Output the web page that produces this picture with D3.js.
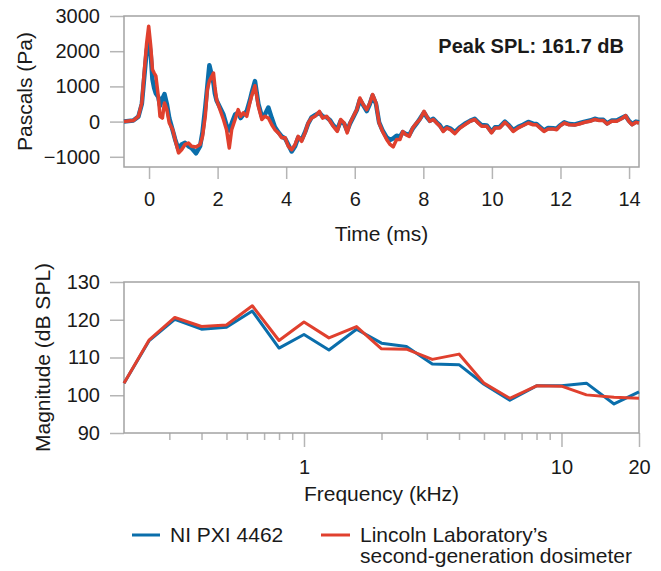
<!DOCTYPE html>
<html>
<head>
<meta charset="utf-8">
<script src="https://cdn.jsdelivr.net/npm/d3@7"></script>
<style>
  body { margin: 0; background: #fff; }
  svg text { font-family: "Liberation Sans", Arial, sans-serif; fill: #1a1a1a; }
</style>
</head>
<body>
<svg></svg>
<script>
// time samples (ms) shared by both pressure traces
let timeMs = [-0.73,-0.46,-0.31,-0.21,-0.15,-0.07,-0.01,0.05,0.10,0.15,0.20,0.27,0.32,0.39,0.45,0.52,0.59,0.69,0.76,0.86,
  0.95,1.05,1.15,1.24,1.37,1.49,1.56,1.64,1.70,1.76,1.88,1.92,1.97,2.07,2.17,2.26,2.34,2.41,2.51,2.60,
  2.67,2.75,2.85,2.94,2.99,3.09,3.19,3.29,3.38,3.48,3.58,3.67,3.77,3.87,3.97,4.06,4.16,4.26,4.35,4.45,
  4.55,4.64,4.74,4.84,4.97,5.06,5.18,5.28,5.37,5.49,5.59,5.69,5.78,5.86,5.96,6.06,6.15,6.25,6.35,6.44,
  6.52,6.62,6.71,6.81,6.93,7.03,7.12,7.22,7.32,7.40,7.49,7.59,7.69,7.80,7.90,8.02,8.10,8.19,8.29,8.39,
  8.48,8.58,8.68,8.79,8.92,9.07,9.21,9.36,9.50,9.60,9.70,9.85,9.99,10.09,10.23,10.38,10.50,10.62,10.77,10.91,
  11.06,11.20,11.30,11.40,11.52,11.64,11.79,11.89,11.98,12.11,12.25,12.42,12.57,12.71,12.86,13.00,13.13,13.25,13.36,13.49,
  13.64,13.78,13.90,13.99,14.09,14.20,14.29];

// NI PXI 4462 (blue)
let niPa = [0,30,140,500,1150,2000,2350,1900,1200,950,800,700,450,650,780,500,100,-250,-500,-800,
  -650,-600,-700,-750,-900,-700,-300,400,1000,1600,1100,800,600,400,200,-100,-250,-50,200,250,
  100,200,300,600,800,1150,500,150,200,400,100,-150,-300,-420,-480,-650,-850,-700,-450,-520,
  -300,-60,120,180,250,150,120,40,-100,-230,20,-60,-260,-60,130,330,620,460,300,500,
  740,500,-20,-250,-450,-520,-480,-400,-430,-300,-350,-380,-200,-60,80,260,130,20,80,-20,
  -100,-250,-160,-200,-300,-160,-60,20,80,-20,-100,-110,-290,-160,-150,0,-110,-240,-150,-90,
  -10,-60,-70,-150,-250,-180,-190,-200,-110,-20,-70,-80,-40,0,30,80,50,50,-50,30,
  30,100,160,30,-70,0,-20];

// Lincoln Laboratory dosimeter (red)
let llPa = [0,30,150,530,1290,2230,2710,2140,1480,1380,1290,720,150,100,530,340,-40,-230,-510,-890,
  -800,-650,-610,-700,-720,-650,-420,150,910,1150,1380,1000,620,340,60,-230,-750,-230,60,340,
  150,250,150,530,720,1020,430,60,150,100,-90,-230,-320,-460,-460,-700,-800,-650,-420,-560,
  -320,-40,100,150,290,100,150,10,-130,-280,60,-40,-320,-40,150,340,670,480,340,530,
  770,530,-40,-280,-510,-650,-720,-510,-510,-280,-370,-420,-180,-40,60,290,150,10,60,-40,
  -130,-280,-180,-230,-340,-180,-90,10,60,-40,-130,-130,-320,-180,-180,-20,-130,-280,-180,-110,
  -40,-90,-90,-180,-280,-210,-210,-230,-130,-40,-90,-100,-60,-20,10,60,30,30,-70,10,
  10,80,170,10,-90,-20,-40];

// one-third-octave band centres (kHz) and magnitudes (dB SPL)
let freqKHz = [0.2,0.25,0.315,0.4,0.5,0.63,0.8,1,1.25,1.6,2,2.5,3.15,4,5,6.3,8,10,12.5,16,20];
let niDb = [103.2,114.4,120.1,117.5,118.0,122.3,112.5,116.1,112.0,117.5,113.8,112.9,108.3,108.1,102.9,98.7,102.5,102.5,103.2,97.7,100.9];
let llDb = [103.2,114.6,120.6,118.2,118.6,123.7,114.5,119.4,115.2,118.2,112.3,112.2,109.5,110.9,103.2,99.2,102.5,102.4,100.1,99.5,99.2];

let pressureTicks = [-1000,0,1000,2000,3000];
let timeTicks = [0,2,4,6,8,10,12,14];
let dbTicks = [90,100,110,120,130];
let freqMajor = [1,10,20];
let freqMinor = [0.3,0.4,0.5,0.6,0.7,0.8,0.9,2,3,4,5,6,7,8,9];

let seriesNames = ["NI PXI 4462", "Lincoln Laboratory\u2019s", "second-generation dosimeter"];
let blue = "#0a6eab";
let red = "#e0402e";

let width = 661;
let height = 571;
let left = 124;
let right = 639;

let svg = d3.select("svg").attr("width", width).attr("height", height);

let styleAxis = (g) => {
  g.select(".domain").remove();
  g.selectAll(".tick line").attr("stroke", "#b5b5b5").attr("stroke-width", 1.5);
  g.selectAll(".tick text").style("font-size", "20px").attr("fill", "#1a1a1a");
};

let frame = (y0, y1) => {
  svg.append("rect")
     .attr("x", left).attr("y", y0)
     .attr("width", right - left).attr("height", y1 - y0)
     .attr("fill", "none").attr("stroke", "#a3a3a3").attr("stroke-width", 1.5);
};

// ---- top panel: pressure vs time
let top0 = 16, top1 = 167;
let xTime = d3.scaleLinear().domain([-0.73, 14.29]).range([left, right]);
let yPa = d3.scaleLinear().domain([-1290, 3000]).range([top1, top0]);

svg.append("g")
   .attr("transform", "translate(" + left + ",0)")
   .call(d3.axisLeft(yPa).tickValues(pressureTicks).tickFormat(d3.format("d")).tickSize(14).tickPadding(10))
   .call(styleAxis);

svg.append("g")
   .attr("transform", "translate(0," + top1 + ")")
   .call(d3.axisBottom(xTime).tickValues(timeTicks).tickSize(12).tickPadding(13))
   .call(styleAxis);

frame(top0, top1);

let timeLine = (vals) => d3.line()
  .x((d, i) => xTime(timeMs[i]))
  .y(d => yPa(d))(vals);

svg.append("path").attr("d", timeLine(niPa))
   .attr("fill", "none").attr("stroke", blue).attr("stroke-width", 4.5).attr("stroke-linejoin", "round");
svg.append("path").attr("d", timeLine(llPa))
   .attr("fill", "none").attr("stroke", red).attr("stroke-width", 3.5).attr("stroke-linejoin", "round");

svg.append("text")
   .attr("x", 624).attr("y", 53)
   .attr("text-anchor", "end")
   .style("font-size", "20px").style("font-weight", "bold")
   .text("Peak SPL: 161.7 dB");

svg.append("text")
   .attr("x", (left + right) / 2).attr("y", 241)
   .attr("text-anchor", "middle").style("font-size", "21px")
   .text("Time (ms)");

svg.append("text")
   .attr("transform", "translate(32," + (top0 + top1) / 2 + ") rotate(-90)")
   .attr("text-anchor", "middle").style("font-size", "21px")
   .text("Pascals (Pa)");

// ---- bottom panel: spectrum
let bot0 = 282, bot1 = 433;
let xFreq = d3.scaleLog().domain([0.2, 20]).range([left, right]);
let yDb = d3.scaleLinear().domain([90, 130]).range([bot1, bot0]);

svg.append("g")
   .attr("transform", "translate(" + left + ",0)")
   .call(d3.axisLeft(yDb).tickValues(dbTicks).tickSize(14).tickPadding(10))
   .call(styleAxis);

svg.append("g")
   .attr("transform", "translate(0," + bot1 + ")")
   .call(d3.axisBottom(xFreq).tickValues(freqMinor).tickSize(7).tickFormat(""))
   .call(styleAxis);

svg.append("g")
   .attr("transform", "translate(0," + bot1 + ")")
   .call(d3.axisBottom(xFreq).tickValues(freqMajor).tickSize(14).tickPadding(13).tickFormat(d3.format("d")))
   .call(styleAxis);

frame(bot0, bot1);

let specLine = (vals) => d3.line()
  .x((d, i) => xFreq(freqKHz[i]))
  .y(d => yDb(d))(vals);

svg.append("path").attr("d", specLine(niDb))
   .attr("fill", "none").attr("stroke", blue).attr("stroke-width", 3).attr("stroke-linejoin", "round");
svg.append("path").attr("d", specLine(llDb))
   .attr("fill", "none").attr("stroke", red).attr("stroke-width", 3).attr("stroke-linejoin", "round");

svg.append("text")
   .attr("x", (left + right) / 2).attr("y", 501)
   .attr("text-anchor", "middle").style("font-size", "21px")
   .text("Frequency (kHz)");

svg.append("text")
   .attr("transform", "translate(50," + (bot0 + bot1) / 2 + ") rotate(-90)")
   .attr("text-anchor", "middle").style("font-size", "21px")
   .text("Magnitude (dB SPL)");

// ---- legend
let legend = svg.append("g");
legend.append("line").attr("x1", 132).attr("x2", 160).attr("y1", 535).attr("y2", 535)
      .attr("stroke", blue).attr("stroke-width", 3);
legend.append("text").attr("x", 170).attr("y", 542).style("font-size", "21px").text(seriesNames[0]);
legend.append("line").attr("x1", 321).attr("x2", 350).attr("y1", 535).attr("y2", 535)
      .attr("stroke", red).attr("stroke-width", 3);
legend.append("text").attr("x", 360).attr("y", 542).style("font-size", "21px").text(seriesNames[1]);
legend.append("text").attr("x", 360).attr("y", 563).style("font-size", "21px").text(seriesNames[2]);
</script>
</body>
</html>
